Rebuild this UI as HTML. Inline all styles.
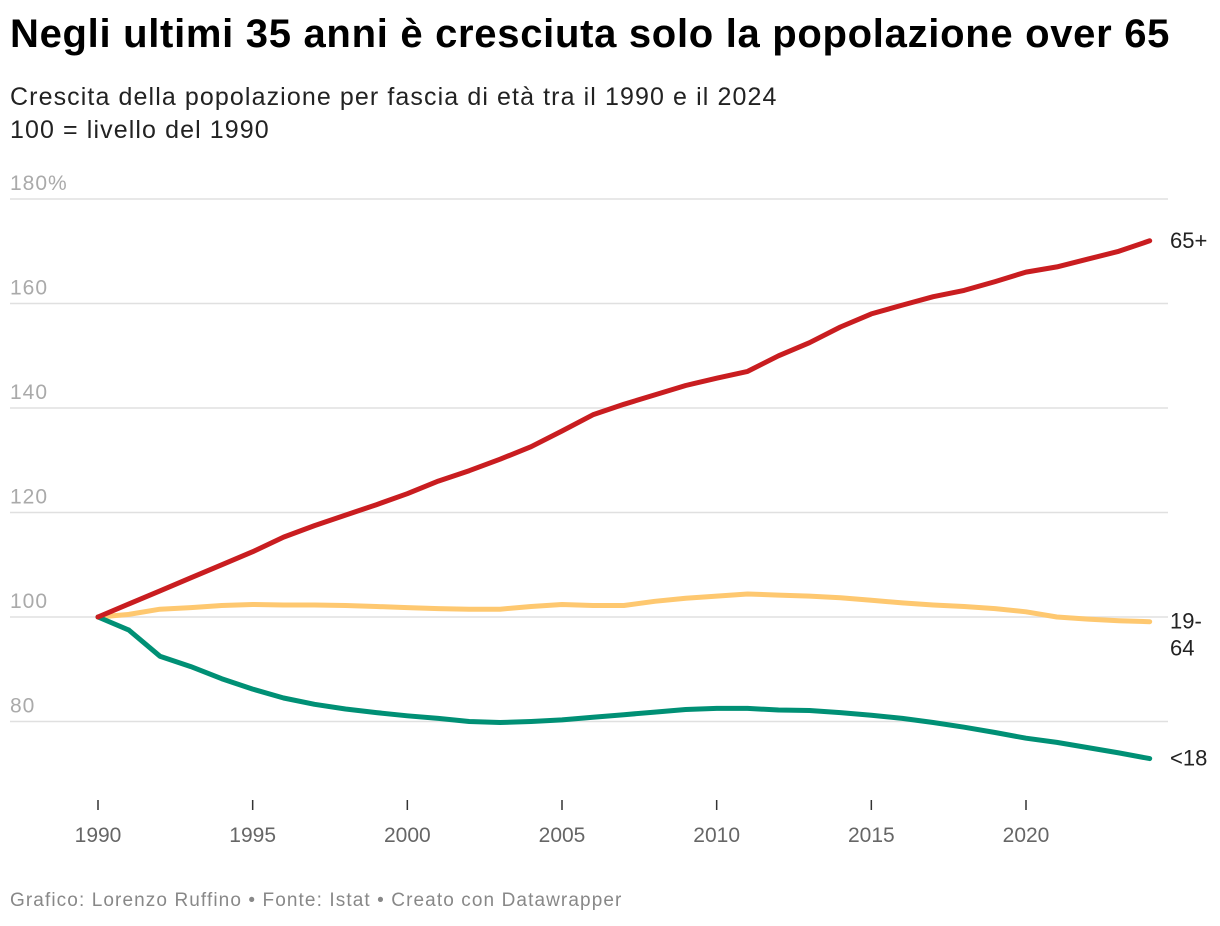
<!DOCTYPE html>
<html><head><meta charset="utf-8">
<style>
body{margin:0;background:#fff;width:1220px;height:926px;overflow:hidden;font-family:"Liberation Sans",sans-serif}
#title{position:absolute;left:10px;top:12px;font-size:40px;font-weight:bold;color:#000;letter-spacing:0.7px;margin:0;white-space:nowrap}
#sub{position:absolute;left:10px;top:81px;font-size:25px;color:#222;line-height:33px;letter-spacing:1.1px;white-space:nowrap}
#foot{position:absolute;left:10px;top:890px;font-size:19px;color:#888;letter-spacing:1.1px;white-space:nowrap}
svg{position:absolute;left:0;top:0}
</style></head><body>
<h1 id="title">Negli ultimi 35 anni è cresciuta solo la popolazione over 65</h1>
<div id="sub">Crescita della popolazione per fascia di età tra il 1990 e il 2024<br>100 = livello del 1990</div>
<div id="foot">Grafico: Lorenzo Ruffino • Fonte: Istat • Creato con Datawrapper</div>
<svg id="chart" width="1220" height="926"></svg>
<script>
const years=[];for(let y=1990;y<=2024;y++)years.push(y);
const over65=[100,102.5,105,107.5,110,112.5,115.3,117.5,119.5,121.5,123.6,126,128,130.2,132.6,135.6,138.7,140.7,142.5,144.3,145.7,147,150,152.5,155.5,158,159.7,161.3,162.5,164.2,166,167,168.5,170,172];
const adults=[100,100.5,101.5,101.8,102.2,102.4,102.3,102.3,102.2,102,101.8,101.6,101.5,101.5,102,102.4,102.2,102.2,103,103.6,104,104.4,104.2,104,103.7,103.2,102.7,102.3,102,101.6,101,100,99.6,99.3,99.1];
const under18=[100,97.5,92.5,90.5,88.2,86.2,84.5,83.3,82.4,81.7,81.1,80.6,80,79.8,80,80.3,80.8,81.3,81.8,82.3,82.5,82.5,82.2,82.1,81.7,81.2,80.6,79.8,78.9,77.9,76.8,76,75,74,72.9];
const yTicks=[80,100,120,140,160,180];
const yTickLabels=["80","100","120","140","160","180%"];
const xTicks=[1990,1995,2000,2005,2010,2015,2020];
const NS="http://www.w3.org/2000/svg";
const svg=document.getElementById('chart');
const x=v=>98+(v-1990)*(1026-98)/30;
const y=v=>617-(v-100)*(617-199)/80;
function mk(t,a){const e=document.createElementNS(NS,t);for(const k in a)e.setAttribute(k,a[k]);svg.appendChild(e);return e;}
yTicks.forEach((t,i)=>{
  const l=mk('line',{x1:10,x2:1168,y1:y(t),y2:y(t),stroke:'#e0e0e0','stroke-width':1.5});
  
  
  const tx=mk('text',{x:10,y:y(t)-9,'font-size':21,fill:'#aaa','letter-spacing':1,'font-family':'Liberation Sans, sans-serif'});
  tx.textContent=yTickLabels[i];
  
  
});
xTicks.forEach(t=>{
  const l=mk('line',{x1:x(t),x2:x(t),y1:800,y2:810,stroke:'#333','stroke-width':1.5});
  
  
  const tx=mk('text',{x:x(t),y:842,'font-size':21,fill:'#666','text-anchor':'middle','font-family':'Liberation Sans, sans-serif'});
  tx.textContent=t;
  
  
});
const series=[[adults,'#fec870','adults-line'],[under18,'#009075','under18-line'],[over65,'#c91d20','over65-line']];
series.forEach(([d,c,n])=>{
  const p=mk('path',{d:d.map((v,i)=>(i?'L':'M')+x(years[i]).toFixed(1)+','+y(v).toFixed(1)).join(''),fill:'none',stroke:c,'stroke-width':5,'stroke-linejoin':'round','stroke-linecap':'round'});
  
  
});
function lab(txt,v,dy,n){const t=mk('text',{x:1170,y:y(v)+7+dy,'font-size':22,fill:'#222','font-family':'Liberation Sans, sans-serif'});t.textContent=txt;
  
  }
lab('65+',over65[34],0,'label-65plus');
lab('19-',adults[34],0,'label-19-64-a');
lab('64',adults[34],27,'label-19-64-b');
lab('<18',under18[34],0,'label-under18');
</script>
</body></html>
